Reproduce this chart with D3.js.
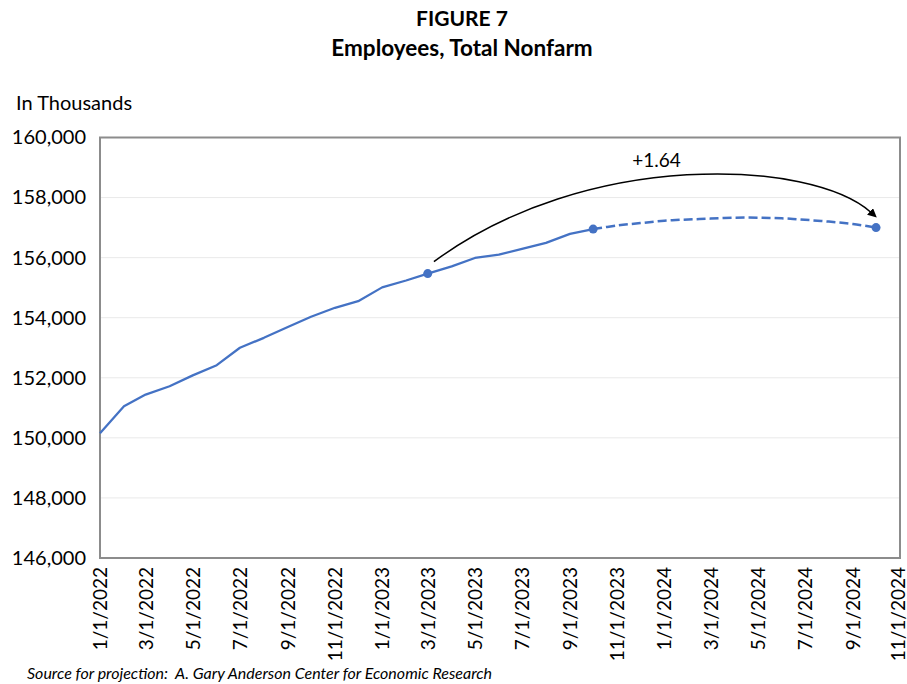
<!DOCTYPE html>
<html><head><meta charset="utf-8">
<script src="https://cdn.jsdelivr.net/npm/d3@7"></script>
<style>body{margin:0;background:#fff}text{font-family:Lato,"Open Sans",sans-serif;fill:#000}</style>
</head><body><svg id="c" width="907" height="684"></svg>
<script>
// ---- data ----
const actualMonths = ["2022-01-01","2022-02-01","2022-03-01","2022-04-01","2022-05-01","2022-06-01","2022-07-01","2022-08-01","2022-09-01","2022-10-01","2022-11-01","2022-12-01","2023-01-01","2023-02-01","2023-03-01","2023-04-01","2023-05-01","2023-06-01","2023-07-01","2023-08-01","2023-09-01","2023-10-01"];
const actualValues = [150150,151050,151440,151720,152080,152420,153000,153330,153690,154030,154330,154550,155010,155240,155470,155710,155990,156100,156290,156490,156790,156950];
const projMonths = ["2023-10-01","2023-11-01","2023-12-01","2024-01-01","2024-02-01","2024-03-01","2024-04-01","2024-05-01","2024-06-01","2024-07-01","2024-08-01","2024-09-01","2024-10-01"];
const projValues = [156950,157070,157150,157230,157270,157300,157330,157330,157310,157260,157200,157120,157000];
const markerMonths = ["2023-03-01","2023-10-01","2024-10-01"];
const markerValues = [155470,156950,157000];
const yTicks = [146000,148000,150000,152000,154000,156000,158000,160000];
const xTickDates = ["2022-01-01","2022-03-01","2022-05-01","2022-07-01","2022-09-01","2022-11-01","2023-01-01","2023-03-01","2023-05-01","2023-07-01","2023-09-01","2023-11-01","2024-01-01","2024-03-01","2024-05-01","2024-07-01","2024-09-01","2024-11-01"];
// annotation arrow: start, two bezier control points, end (date, value)
const arrowDates = ["2023-03-09","2023-09-21","2024-07-09","2024-09-25"];
const arrowValues = [155866,159608,159292,157496];
const annotationText = "+1.64";
const annotationDate = "2023-12-22";
const annotationValue = 159230;

// ---- chart ----
const parse = d3.timeParse("%Y-%m-%d");
const svg = d3.select("#c");
svg.append("rect").attr("width",907).attr("height",684).attr("fill","#fff");
const L=100,R=900,T=137.5,B=558;
const x = d3.scaleTime().domain([parse("2022-01-01"), parse("2024-11-01")]).range([L,R]);
const y = d3.scaleLinear().domain([146000,160000]).range([B,T]);

// gridlines
svg.append("g").selectAll("line").data(yTicks.slice(1,-1)).join("line")
  .attr("x1",L).attr("x2",R).attr("y1",d=>y(d)).attr("y2",d=>y(d))
  .attr("stroke","#e9e9e9").attr("stroke-width",1);

// y axis labels
const yAxis = d3.axisLeft(y).tickValues(yTicks).tickFormat(d3.format(",")).tickSize(0).tickPadding(0);
const gy = svg.append("g").attr("transform",`translate(${L-14},0)`).call(yAxis);
gy.select(".domain").remove();
gy.selectAll("text").attr("font-size",20).attr("font-family","Lato").attr("fill","#000");

// x axis labels
const fmt = d3.timeFormat("%-m/%-d/%Y");
const xAxis = d3.axisBottom(x).tickValues(xTickDates.map(parse)).tickFormat(fmt).tickSize(0).tickPadding(0);
const gx = svg.append("g").attr("transform",`translate(0,${B+9})`).call(xAxis);
gx.select(".domain").remove();
const nT = xTickDates.length;
gx.selectAll("text").attr("font-size",19).attr("font-family","Lato").attr("fill","#000")
  .attr("text-anchor","end").attr("dy","0.35em").attr("y",0).attr("x",0)
  .attr("transform",(d,i)=> i===nT-1 ? "translate(-2,0) rotate(-90)" : "rotate(-90)");

// frame
svg.append("rect").attr("x",L).attr("y",T).attr("width",R-L).attr("height",B-T)
  .attr("fill","none").attr("stroke","#8c8c8c").attr("stroke-width",2);

// lines
const blue = "#4472C4";
const line = d3.line().x(d=>x(parse(d[0]))).y(d=>y(d[1]));
svg.append("path").datum(d3.zip(actualMonths,actualValues))
  .attr("d",line).attr("fill","none").attr("stroke",blue).attr("stroke-width",2.25).attr("stroke-linejoin","round");
svg.append("path").datum(d3.zip(projMonths,projValues))
  .attr("d",line.curve(d3.curveCatmullRom.alpha(0.5))).attr("fill","none").attr("stroke",blue)
  .attr("stroke-width",2.5).attr("stroke-dasharray","9,4");

// markers
svg.append("g").selectAll("circle").data(d3.zip(markerMonths,markerValues)).join("circle")
  .attr("cx",d=>x(parse(d[0]))).attr("cy",d=>y(d[1])).attr("r",4.5).attr("fill",blue);

// arrow
svg.append("defs").append("marker").attr("id","ah").attr("viewBox","0 0 10 10")
  .attr("refX",2).attr("refY",5).attr("markerWidth",9).attr("markerHeight",9)
  .attr("markerUnits","userSpaceOnUse").attr("orient","auto")
  .append("path").attr("d","M0,0 L10,5 L0,10 z").attr("fill","#000");
const ap = d3.zip(arrowDates,arrowValues).map(d=>[x(parse(d[0])), y(d[1])]);
const p = d3.path();
p.moveTo(ap[0][0],ap[0][1]);
p.bezierCurveTo(ap[1][0],ap[1][1],ap[2][0],ap[2][1],ap[3][0],ap[3][1]);
svg.append("path").attr("d",p.toString())
  .attr("fill","none").attr("stroke","#000").attr("stroke-width",1.5).attr("marker-end","url(#ah)");
svg.append("text").attr("x",x(parse(annotationDate))).attr("y",y(annotationValue)).attr("dy","0.35em")
  .attr("text-anchor","middle").attr("font-size",19).text(annotationText);

// titles
svg.append("text").attr("x",462).attr("y",26).attr("text-anchor","middle").attr("font-weight","bold").attr("font-size",21).text("FIGURE 7");
svg.append("text").attr("x",462).attr("y",56).attr("text-anchor","middle").attr("font-weight","bold").attr("font-size",22.5).text("Employees, Total Nonfarm");
svg.append("text").attr("x",16).attr("y",110).attr("font-size",20).text("In Thousands");
svg.append("text").attr("x",27).attr("y",679).attr("font-size",16).attr("font-style","italic").text("Source for projection:\u00a0\u00a0A. Gary Anderson Center for Economic Research");
</script></body></html>
